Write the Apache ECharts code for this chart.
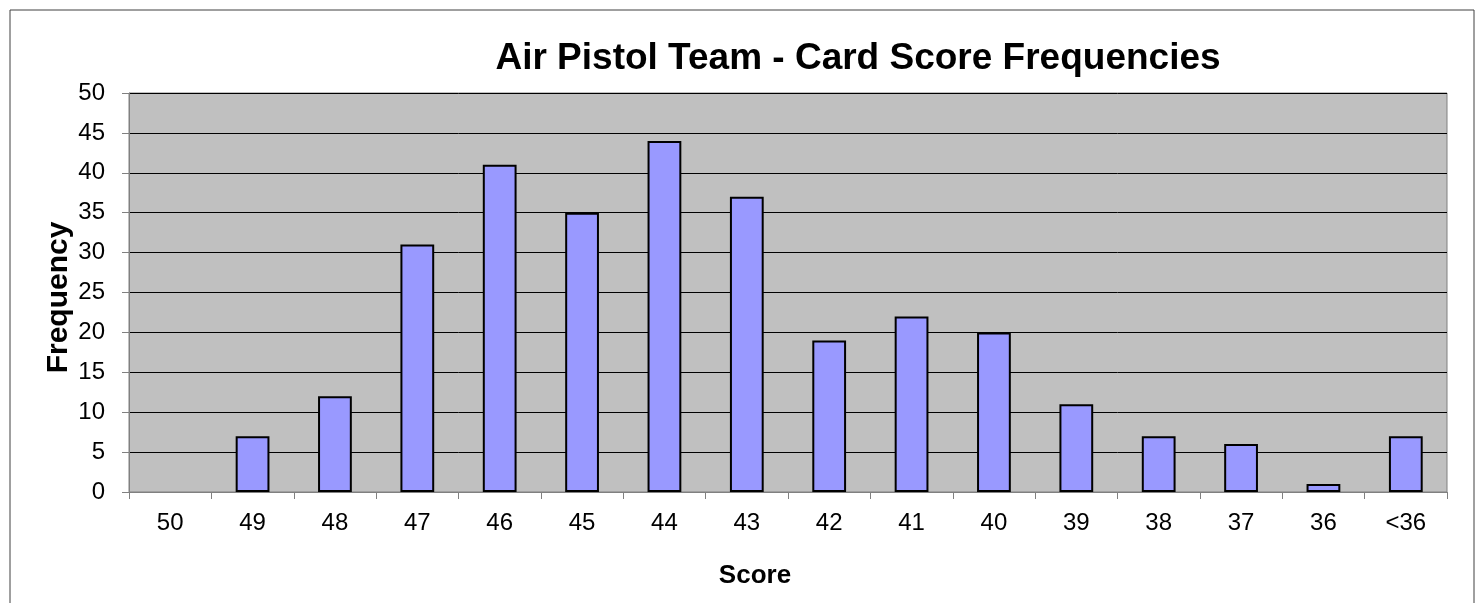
<!DOCTYPE html>
<html>
<head>
<meta charset="utf-8">
<script src="https://cdn.jsdelivr.net/npm/echarts@6/dist/echarts.min.js"></script>
<style>
  html, body { margin: 0; padding: 0; background: #fff; }
  #main { width: 1477px; height: 603px; }
</style>
</head>
<body>
<div id="main"></div>
<script>
var scoreCategories = ['50', '49', '48', '47', '46', '45', '44', '43', '42', '41', '40', '39', '38', '37', '36', '<36'];
var frequencyValues = [0, 7, 12, 31, 41, 35, 44, 37, 19, 22, 20, 11, 7, 6, 1, 7];

// empty categories get no outline (Excel draws nothing for 0)
var barData = frequencyValues.map(function (v) {
    return v === 0 ? { value: v, itemStyle: { borderWidth: 0 } } : v;
});

var myChart = echarts.init(document.getElementById('main'));
var option = {
    backgroundColor: '#ffffff',
    animation: false,
    title: {
        text: 'Air Pistol Team - Card Score Frequencies',
        left: 853,
        top: 35,
        textAlign: 'center',
        textStyle: {
            fontFamily: 'Liberation Sans, Arial',
            fontWeight: 'bold',
            fontSize: 37,
            color: '#000'
        }
    },
    graphic: [{
        type: 'rect',
        shape: { x: 10, y: 10, width: 1464, height: 600 },
        style: { fill: 'none', stroke: '#404040', lineWidth: 1 },
        silent: true
    }],
    grid: {
        left: 129,
        right: 30,
        top: 93,
        bottom: 111,
        show: true,
        backgroundColor: '#c0c0c0',
        borderColor: '#808080',
        borderWidth: 1
    },
    xAxis: {
        type: 'category',
        data: scoreCategories,
        name: 'Score',
        nameLocation: 'middle',
        nameGap: 71,
        nameTextStyle: {
            fontFamily: 'Liberation Sans, Arial',
            fontWeight: 'bold',
            fontSize: 26,
            color: '#000',
            padding: [0, 66, 0, 0]
        },
        axisLine: { lineStyle: { color: '#808080', width: 1 } },
        axisTick: { show: true, length: 7, lineStyle: { color: '#808080' } },
        axisLabel: {
            fontFamily: 'Liberation Sans, Arial',
            fontSize: 24,
            color: '#000',
            margin: 19
        }
    },
    yAxis: {
        type: 'value',
        min: 0,
        max: 50,
        interval: 5,
        name: 'Frequency',
        nameLocation: 'middle',
        nameGap: 55,
        nameMoveOverlap: false,
        nameTextStyle: {
            fontFamily: 'Liberation Sans, Arial',
            fontWeight: 'bold',
            fontSize: 30,
            color: '#000',
            padding: [0, 10, 0, 0]
        },
        axisLine: { show: true, lineStyle: { color: '#808080', width: 1 } },
        axisTick: { show: true, length: 7, lineStyle: { color: '#808080' } },
        axisLabel: {
            fontFamily: 'Liberation Sans, Arial',
            fontSize: 24,
            color: '#000',
            margin: 24
        },
        splitLine: { show: true, lineStyle: { color: '#000', width: 1 } }
    },
    series: [{
        type: 'bar',
        data: barData,
        barWidth: '41%',
        itemStyle: {
            color: '#9999ff',
            borderColor: '#000',
            borderWidth: 2
        }
    }]
};
myChart.setOption(option);
</script>
</body>
</html>
